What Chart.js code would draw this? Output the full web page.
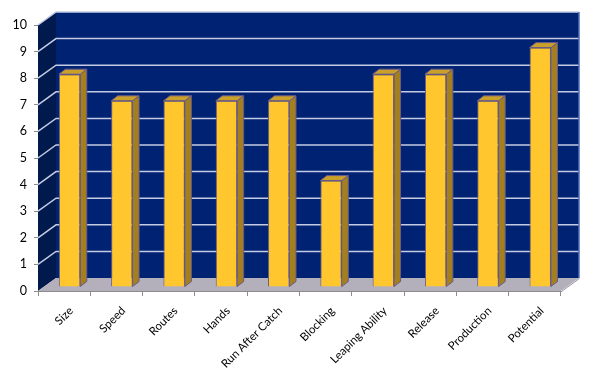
<!DOCTYPE html>
<html>
<head>
<meta charset="utf-8">
<script src="https://cdn.jsdelivr.net/npm/chart.js@4"></script>
<style>
html,body{margin:0;padding:0;background:#fff;}
#wrap{width:595px;height:379px;}
</style>
</head>
<body>
<div id="wrap"><canvas id="c" width="595" height="379"></canvas></div>
<script>
const categories = ["Size","Speed","Routes","Hands","Run After Catch","Blocking","Leaping Ability","Release","Production","Potential"];
const ratings = [8,7,7,7,7,4,8,8,7,9];
const yTicks = [0,1,2,3,4,5,6,7,8,9,10];

// 3D geometry (pixels)
const DEPTH = {x: 18, y: -13};      // full depth of the box
const BAR_OFF = {x: 5.4, y: -4};    // bar front plane offset from front plane
const BAR_SIDE = {x: 6.5, y: -5};   // bar depth
const LABEL_SHIFT = 7;              // category label horizontal shift

const threeD = {
  id: 'threeD',
  beforeDraw(chart) {
    const xs = chart.scales.x;
    const items = xs.getLabelItems();
    items.forEach(it => {
      if (!it._shifted) {
        it.options.translation = [it.options.translation[0] + LABEL_SHIFT, it.options.translation[1]];
        it._shifted = true;
      }
    });
  },
  beforeDatasetsDraw(chart) {
    const ctx = chart.ctx;
    const xs = chart.scales.x, ys = chart.scales.y;
    const x0 = xs.left, x1 = xs.right;
    const yb = ys.getPixelForValue(0), yt = ys.getPixelForValue(10);
    ctx.save();
    // back wall
    ctx.fillStyle = '#002273';
    ctx.fillRect(x0 + DEPTH.x, yt + DEPTH.y, x1 - x0, yb - yt);
    // left wall
    ctx.fillStyle = '#001a4e';
    ctx.beginPath();
    ctx.moveTo(x0, yt); ctx.lineTo(x0 + DEPTH.x, yt + DEPTH.y);
    ctx.lineTo(x0 + DEPTH.x, yb + DEPTH.y); ctx.lineTo(x0, yb); ctx.closePath();
    ctx.fill();
    // floor
    ctx.fillStyle = '#b3b0bb';
    ctx.beginPath();
    ctx.moveTo(x0, yb); ctx.lineTo(x1, yb);
    ctx.lineTo(x1 + DEPTH.x, yb + DEPTH.y); ctx.lineTo(x0 + DEPTH.x, yb + DEPTH.y); ctx.closePath();
    ctx.fill();
    ctx.strokeStyle = '#9a98a6'; ctx.lineWidth = 1;
    ctx.beginPath();
    ctx.moveTo(x1 + 0.5, yb + 0.5); ctx.lineTo(x1 + DEPTH.x + 0.5, yb + DEPTH.y + 0.5);
    ctx.stroke();
    // grid lines
    ctx.strokeStyle = '#c4cbe2'; ctx.lineWidth = 1.5;
    yTicks.forEach(v => {
      if (v === 0) return;
      const y = ys.getPixelForValue(v);
      ctx.beginPath();
      ctx.moveTo(x0, y);
      ctx.lineTo(x0 + DEPTH.x, y + DEPTH.y);
      ctx.lineTo(x1 + DEPTH.x, y + DEPTH.y);
      ctx.stroke();
    });
    // back wall right edge
    ctx.strokeStyle = '#4d6fb8'; ctx.lineWidth = 1.5;
    ctx.beginPath();
    ctx.moveTo(x1 + DEPTH.x, yb + DEPTH.y); ctx.lineTo(x1 + DEPTH.x, yt + DEPTH.y);
    ctx.stroke();

    // bar 3D faces
    const meta = chart.getDatasetMeta(0);
    meta.data.forEach(bar => {
      const p = bar.getProps(['x','y','base','width'], true);
      const xl = p.x - p.width/2 + BAR_OFF.x, xr = p.x + p.width/2 + BAR_OFF.x;
      const top = p.y + BAR_OFF.y, bot = p.base + BAR_OFF.y;
      ctx.strokeStyle = '#6b5a8c'; ctx.lineWidth = 1;
      ctx.fillStyle = '#a3801d';
      ctx.beginPath();
      ctx.moveTo(xr, top); ctx.lineTo(xr + BAR_SIDE.x, top + BAR_SIDE.y);
      ctx.lineTo(xr + BAR_SIDE.x, bot + BAR_SIDE.y); ctx.lineTo(xr, bot); ctx.closePath();
      ctx.fill(); ctx.stroke();
      ctx.fillStyle = '#c9a02a';
      ctx.beginPath();
      ctx.moveTo(xl, top); ctx.lineTo(xr, top);
      ctx.lineTo(xr + BAR_SIDE.x, top + BAR_SIDE.y); ctx.lineTo(xl + BAR_SIDE.x, top + BAR_SIDE.y); ctx.closePath();
      ctx.fill(); ctx.stroke();
    });
    ctx.restore();
    ctx.save();
    ctx.translate(BAR_OFF.x, BAR_OFF.y);
  },
  afterDatasetsDraw(chart) {
    chart.ctx.restore();
  }
};

new Chart(document.getElementById('c'), {
  type: 'bar',
  data: {
    labels: categories,
    datasets: [{
      data: ratings,
      backgroundColor: '#ffc62d',
      borderColor: '#6b5a8c',
      borderWidth: 1,
      categoryPercentage: 1.0,
      barPercentage: 0.41
    }]
  },
  options: {
    responsive: false,
    animation: false,
    devicePixelRatio: 1,
    layout: {padding: {left: 0, right: 34, top: 25, bottom: 0}},
    plugins: {legend: {display: false}, tooltip: {enabled: false}},
    scales: {
      x: {
        offset: true,
        grid: {display: true, offset: true, drawOnChartArea: false, tickLength: 5, color: '#8c8c8c'},
        border: {display: true, color: '#8c8c8c'},
        ticks: {
          color: '#000', font: {family: 'Lato', size: 11.5},
          minRotation: 45, maxRotation: 45, padding: 8, autoSkip: false
        },
        afterFit(s) { s.height = 88; }
      },
      y: {
        min: 0, max: 10,
        afterBuildTicks(s) { s.ticks = yTicks.map(v => ({value: v})); },
        grid: {display: true, drawOnChartArea: false, tickLength: 4, color: '#8c8c8c'},
        border: {display: true, color: '#8c8c8c'},
        ticks: {color: '#000', font: {family: 'Lato', size: 12.5}, padding: 7},
        afterFit(s) { s.width = 38; }
      }
    }
  },
  plugins: [threeD]
});
</script>
</body>
</html>
